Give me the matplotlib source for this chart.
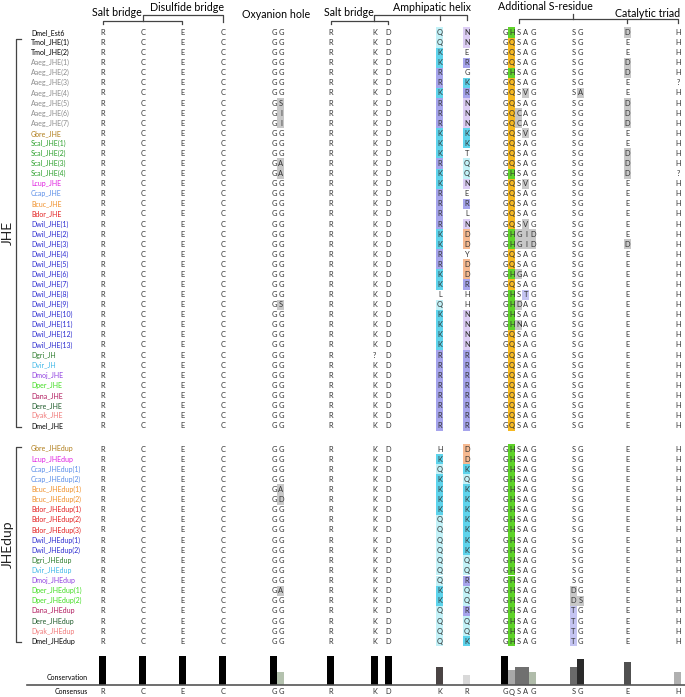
import matplotlib
matplotlib.use("Agg")
import matplotlib.pyplot as plt
from matplotlib.patches import Rectangle

plt.rcParams['font.family'] = ['Lato', 'DejaVu Sans']

# ---- data ----
jhe_names = ["Dmel_Est6", "Tmol_JHE(1)", "Tmol_JHE(2)",
             "Aaeg_JHE(1)", "Aaeg_JHE(2)", "Aaeg_JHE(3)", "Aaeg_JHE(4)",
             "Aaeg_JHE(5)", "Aaeg_JHE(6)", "Aaeg_JHE(7)", "Gbre_JHE",
             "Scal_JHE(1)", "Scal_JHE(2)", "Scal_JHE(3)", "Scal_JHE(4)",
             "Lcup_JHE", "Ccap_JHE", "Bcuc_JHE", "Bdor_JHE",
             "Dwil_JHE(1)", "Dwil_JHE(2)", "Dwil_JHE(3)", "Dwil_JHE(4)",
             "Dwil_JHE(5)", "Dwil_JHE(6)", "Dwil_JHE(7)", "Dwil_JHE(8)",
             "Dwil_JHE(9)", "Dwil_JHE(10)", "Dwil_JHE(11)", "Dwil_JHE(12)",
             "Dwil_JHE(13)", "Dgri_JH", "Dvir_JH", "Dmoj_JHE", "Dper_JHE",
             "Dana_JHE", "Dere_JHE", "Dyak_JHE", "Dmel_JHE"]

# columns: R C E C | G G | R K D | helix1 helix2 | G x S A G | S G | E | H
jhe_seqs = ["RCECGGRKDQNGHSAGSGDH", "RCECGGRKDQNGQSAGSGEH", "RCECGGRKDKEGQSAGSGEH",
            "RCECGGRKDKRGQSAGSGDH", "RCECGGRKDRGGHSAGSGDH", "RCECGGRKDRKGQSAGSGE?",
            "RCECGGRKDKRGQSVGSAEH", "RCECGSRKDRNGQSAGSGDH", "RCECGIRKDRNGQCAGSGDH",
            "RCECGIRKDRNGQCAGSGDH", "RCECGGRKDKKGQSVGSGEH", "RCECGGRKDKKGQSAGSGEH",
            "RCECGGRKDKTGQSAGSGDH", "RCECGARKDRQGQSAGSGDH", "RCECGARKDKQGHSAGSGD?",
            "RCECGGRKDKNGQSVGSGEH", "RCECGGRKDREGQSAGSGEH", "RCECGGRKDRRGQSAGSGEH",
            "RCECGGRKDRLGQSAGSGEH", "RCECGGRKDRNGQSVGSGEH", "RCECGGRKDKDGHGIDSGEH",
            "RCECGGRKDKDGHGIDSGDH", "RCECGGRKDRYGQSAGSGEH", "RCECGGRKDRDGQSAGSGEH",
            "RCECGGRKDKDGHGAGSGEH", "RCECGGRKDKRGQSAGSGEH", "RCECGGRKDLHGHSTGSGEH",
            "RCECGSRKDQHGHDAGSGEH", "RCECGGRKDKNGHSAGSGEH", "RCECGGRKDKNGHNAGSGEH",
            "RCECGGRKDKNGQSAGSGEH", "RCECGGRKDKNGQSAGSGEH", "RCECGGR?DRRGQSAGSGEH",
            "RCECGGRKDRRGQSAGSGEH", "RCECGGRKDRRGQSAGSGEH", "RCECGGRKDRRGQSAGSGEH",
            "RCECGGRKDRRGQSAGSGEH", "RCECGGRKDRRGQSAGSGEH", "RCECGGRKDRRGQSAGSGEH",
            "RCECGGRKDRRGQSAGSGEH"]

dup_names = ["Gbre_JHEdup", "Lcup_JHEdup", "Ccap_JHEdup(1)", "Ccap_JHEdup(2)",
             "Bcuc_JHEdup(1)", "Bcuc_JHEdup(2)", "Bdor_JHEdup(1)", "Bdor_JHEdup(2)",
             "Bdor_JHEdup(3)", "Dwil_JHEdup(1)", "Dwil_JHEdup(2)", "Dgri_JHEdup",
             "Dvir_JHEdup", "Dmoj_JHEdup", "Dper_JHEdup(1)", "Dper_JHEdup(2)",
             "Dana_JHEdup", "Dere_JHEdup", "Dyak_JHEdup", "Dmel_JHEdup"]

dup_seqs = ["RCECGGRKDHDGHSAGSGEH", "RCECGGRKDKDGHSAGSGEH", "RCECGGRKDQKGHSAGSGEH",
            "RCECGGRKDKQGHSAGSGEH", "RCECGARKDKKGHSAGSGEH", "RCECGDRKDKKGHSAGSGEH",
            "RCECGGRKDKKGHSAGSGEH", "RCECGGRKDQKGHSAGSGEH", "RCECGGRKDQKGHSAGSGEH",
            "RCECGGRKDQKGHSAGSGEH", "RCECGGRKDQKGHSAGSGEH", "RCECGGRKDQQGHSAGSGEH",
            "RCECGGRKDQQGHSAGSGEH", "RCECGGRKDQRGHSAGSGEH", "RCECGARKDKQGHSAGDGEH",
            "RCECGGRKDKQGHSAGDSEH", "RCECGGRKDQRGHSAGTGEH", "RCECGGRKDQQGHSAGTGEH",
            "RCECGGRKDQQGHSAGTGEH", "RCECGGRKDQKGHSAGTGEH"]

consensus = "RCECGGRKDKRGQSAGSGEH"
conservation = [1.0, 1.0, 1.0, 1.0, 1.0, 0.45, 1.0, 1.0, 1.0, 0.62, 0.34,
                1.0, 0.52, 0.62, 0.62, 0.45, 0.62, 0.9, 0.79, 0.45]

regions = ["Salt bridge", "Disulfide bridge", "Oxyanion hole", "Salt bridge",
           "Amphipatic helix", "Additional S-residue", "Catalytic triad"]

# ---- layout / style ----
col_x = [103, 143, 182.5, 223, 274, 281, 331, 374.5, 388.5, 440, 467,
         505, 512, 519, 526, 533, 573.5, 580.5, 627.5, 678]
bar_colors = ['black', 'black', 'black', 'black', 'black', '#b4c2ae', 'black',
              'black', 'black', '#4a4444', '#d9d9d9', 'black', '#a8a8a8',
              '#707070', '#707070', '#b0bcaa', '#6a6a6a', '#2a2a2a', '#505050', '#b0b0b0']

species_color = {"Dmel": "black", "Tmol": "black", "Aaeg": "#8c8c8c", "Gbre": "#b07d1a",
                 "Scal": "#2ca02c", "Lcup": "#e020e0", "Ccap": "#5b8ee8",
                 "Bcuc": "#f0902a", "Bdor": "#e32020", "Dwil": "#2b2bd0",
                 "Dgri": "#2e7d2e", "Dvir": "#40b8e8", "Dmoj": "#9040e0",
                 "Dper": "#40dd20", "Dana": "#b0185c", "Dere": "#1e5a2a",
                 "Dyak": "#f07878"}

helix_col = {'Q': '#c2f1f7', 'K': '#5ed4ec', 'R': '#a6a4ec',
             'N': '#dccdf4', 'D': '#f6b990'}
xcol = {'H': '#5fd32a', 'Q': '#f6b820'}
GRAY = '#c8c8c8'
LAV = '#c4c4f2'


def cell_color(c, ch):
    if ch == '?':
        return None
    if c in (9, 10):
        return helix_col.get(ch)
    if c == 12:
        return xcol.get(ch)
    if ch != consensus[c]:
        return LAV if ch == 'T' else GRAY
    return None


pitch = 10.1
jhe_y = [32.5 + i * 10.08 for i in range(len(jhe_names))]
dup_y = [449 + j * 10.12 for j in range(len(dup_names))]

fig = plt.figure(figsize=(6.85, 6.97), dpi=100)
ax = fig.add_axes([0, 0, 1, 1])
ax.set_xlim(0, 685)
ax.set_ylim(697, 0)
ax.axis('off')

FS = 5
RFS = 5.4
for names, seqs, ys in [(jhe_names, jhe_seqs, jhe_y), (dup_names, dup_seqs, dup_y)]:
    for name, seq, y in zip(names, seqs, ys):
        ax.text(31, y, name, fontsize=FS, color=species_color[name[:4]],
                ha='left', va='center')
        for c, ch in enumerate(seq):
            bg = cell_color(c, ch)
            if bg is not None:
                ax.add_patch(Rectangle((col_x[c] - 3.5, y - pitch / 2), 7, pitch,
                                       color=bg, lw=0, zorder=1))
            ax.text(col_x[c], y, ch, fontsize=RFS, color='#333333',
                    ha='center', va='center', zorder=2)

# group brackets on the left
lk = dict(color='#444444', lw=0.9)
for ys, label in [(jhe_y, "JHE"), (dup_y, "JHEdup")]:
    top, bot = ys[0] + 6.5 if label == "JHE" else ys[0] - 2, ys[-1] + 1
    ax.plot([21, 16, 16, 21], [top, top, bot, bot], **lk)
    ax.text(8, (top + bot) / 2, label, fontsize=10, rotation=90,
            ha='center', va='center', color='#222222')

# headers and brackets
hfs = 7.7
ax.text(117, 13, regions[0], fontsize=hfs, ha='center', va='center')
ax.text(187, 7.5, regions[1], fontsize=hfs, ha='center', va='center')
ax.text(276, 14, regions[2], fontsize=hfs, ha='center', va='center')
ax.text(349, 13, regions[3], fontsize=hfs, ha='center', va='center')
ax.text(432, 7.5, regions[4], fontsize=hfs, ha='center', va='center')
ax.text(545, 7, regions[5], fontsize=hfs, ha='center', va='center')
ax.text(648, 13.5, regions[6], fontsize=hfs, ha='center', va='center')

ax.plot([col_x[0], col_x[0], col_x[2], col_x[2]], [24, 21, 21, 24], **lk)
ax.plot([col_x[1], col_x[1], col_x[3], col_x[3]], [21, 15, 15, 22], **lk)
ax.plot([col_x[6], col_x[6], col_x[8], col_x[8]], [24, 21, 21, 24], **lk)
ax.plot([col_x[7], col_x[7], col_x[10], col_x[10]], [21, 15, 15, 20], **lk)
ax.plot([col_x[9], col_x[9]], [15, 20], **lk)
ax.plot([col_x[13], col_x[13], col_x[19], col_x[19]], [23, 19, 19, 23], **lk)
ax.plot([col_x[18], col_x[18]], [19, 23], **lk)
ax.plot([col_x[16], col_x[16]], [19, 13.5], **lk)

# conservation and consensus
ax.text(88, 678, "Conservation", fontsize=FS, ha='right', va='center')
ax.text(88, 692, "Consensus", fontsize=FS, ha='right', va='center')
for c, ch in enumerate(consensus):
    ax.text(col_x[c], 692, ch, fontsize=RFS, ha='center', va='center', color='#333333')

axb = fig.add_axes([0, 12 / 697, 1, 29 / 697])
axb.set_xlim(0, 685)
axb.set_ylim(0, 1)
axb.bar(col_x, conservation, width=7, color=bar_colors, align='center')
axb.set_facecolor('none')
for s in ['top', 'left', 'right']:
    axb.spines[s].set_visible(False)
axb.spines['bottom'].set_bounds(27, 685)
axb.spines['bottom'].set_color('#555555')
axb.spines['bottom'].set_linewidth(1.2)
axb.set_xticks([])
axb.set_yticks([])

fig.savefig("out.png", dpi=100)
